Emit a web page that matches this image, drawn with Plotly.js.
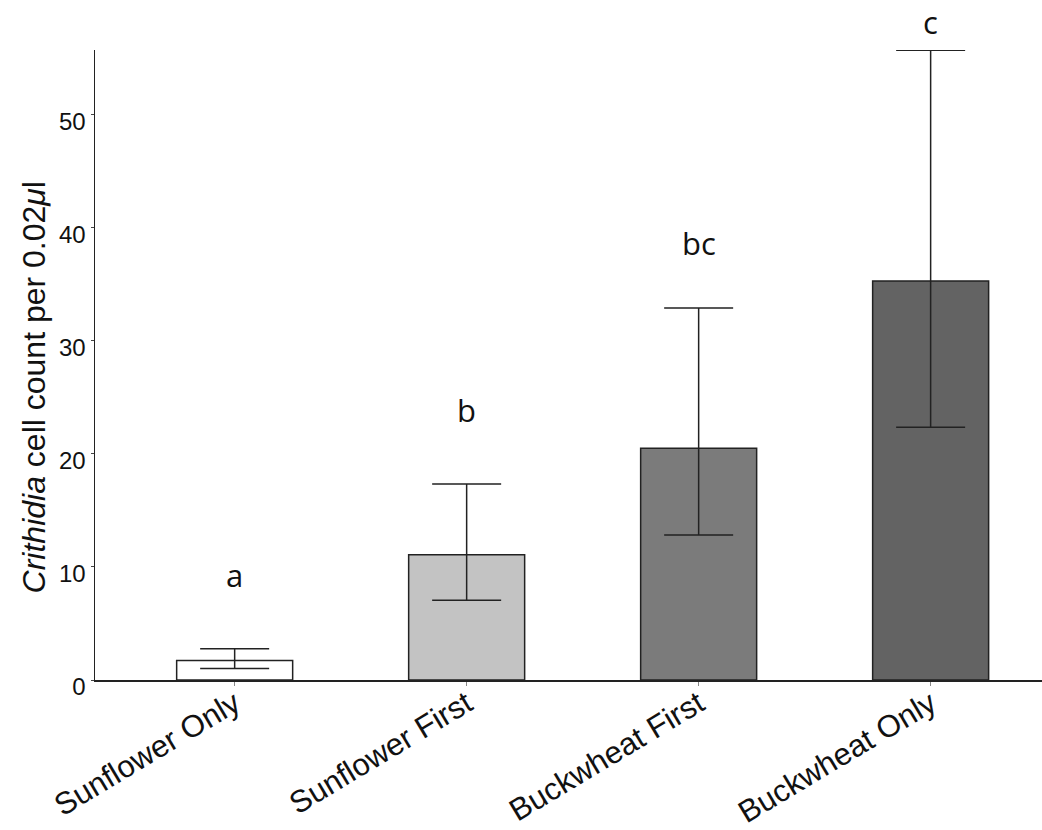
<!DOCTYPE html>
<html>
<head>
<meta charset="utf-8">
<script src="https://cdn.plot.ly/plotly-3.0.1.min.js"></script>
<style>html,body{margin:0;padding:0;background:#fff;}#chart{width:1042px;height:830px;}</style>
</head>
<body>
<div id="chart"></div>
<script>
const categories = ['Sunflower Only', 'Sunflower First', 'Buckwheat First', 'Buckwheat Only'];
const means = [1.73, 11.08, 20.49, 35.27];
const upperBound = [2.76, 17.33, 32.9, 55.68];
const lowerBound = [1.02, 7.04, 12.81, 22.35];
const barColors = ['#ffffff', '#c3c3c3', '#7b7b7b', '#636363'];
const sigLetters = ['a', 'b', 'bc', 'c'];
const sigLetterHeights = [9.25, 23.84, 38.67, 58.15];
const yTicks = [0, 10, 20, 30, 40, 50];
const yMax = 55.7;

const errPlus = means.map((m, i) => upperBound[i] - m);
const errMinus = means.map((m, i) => m - lowerBound[i]);

const trace = {
  type: 'bar',
  x: categories,
  y: means,
  width: 0.5,
  marker: {color: barColors, line: {color: '#222', width: 1.5}},
  error_y: {
    type: 'data', symmetric: false,
    array: errPlus, arrayminus: errMinus,
    color: '#222', thickness: 1.5, width: 34.5
  },
  hoverinfo: 'skip'
};

const annotations = categories.map((c, i) => ({
  x: c, y: sigLetterHeights[i] / yMax, xref: 'x', yref: 'paper',
  xanchor: 'center', yanchor: 'middle',
  text: sigLetters[i], showarrow: false,
  font: {family: 'Open Sans', size: 31, color: '#111'}
}));

const layout = {
  width: 1042, height: 830,
  margin: {l: 95, r: 0, t: 50, b: 150},
  paper_bgcolor: '#fff', plot_bgcolor: '#fff',
  showlegend: false,
  font: {family: 'Liberation Sans, Arial, sans-serif', color: '#111'},
  xaxis: {
    type: 'category', range: [-0.602, 3.48],
    showline: true, linecolor: '#222', linewidth: 1.5,
    ticks: 'outside', ticklen: 4, tickcolor: '#888', tickwidth: 1,
    tickangle: -31, tickfont: {size: 31, color: '#111'}, ticklabelstandoff: -12,
    showgrid: false, zeroline: false, fixedrange: true
  },
  yaxis: {
    range: [0, yMax], tickvals: yTicks, ticktext: yTicks.map(String),
    showline: true, linecolor: '#222', linewidth: 1.5,
    ticks: 'outside', ticklen: 3, tickcolor: '#444', tickwidth: 1,
    tickfont: {size: 24, color: '#111'}, ticklabelshift: 7, ticklabelstandoff: 0,
    showgrid: false, zeroline: false, fixedrange: true,
    title: {text: '<i>Crithidia</i> cell count per 0.02<i>μ</i>l&nbsp;&nbsp;&nbsp;&nbsp;&nbsp;', font: {size: 32, color: '#111'}, standoff: 4}
  },
  annotations: annotations
};

Plotly.newPlot('chart', [trace], layout, {displayModeBar: false, staticPlot: true});
</script>
</body>
</html>
